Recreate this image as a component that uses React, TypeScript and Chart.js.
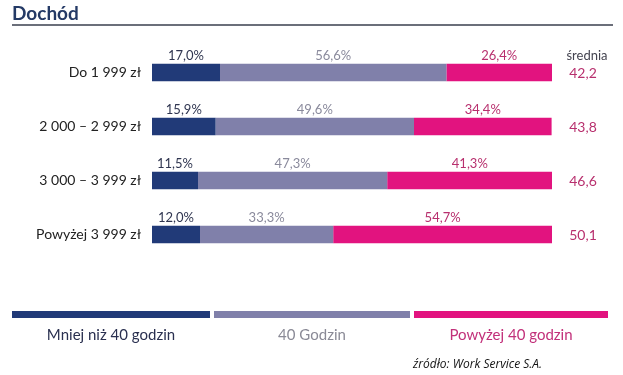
import React, { useEffect, useRef } from "react";
import { Chart, registerables } from "chart.js";

Chart.register(...registerables);

const categories = ["Do 1 999 zł", "2 000 – 2 999 zł", "3 000 – 3 999 zł", "Powyżej 3 999 zł"];
const seriesNames = ["Mniej niż 40 godzin", "40 Godzin", "Powyżej 40 godzin"];
const lessThan40 = [17.0, 15.9, 11.5, 12.0];
const exactly40 = [56.6, 49.6, 47.3, 33.3];
const moreThan40 = [26.4, 34.4, 41.3, 54.7];
const averages = [42.2, 43.8, 46.6, 50.1];
const averageHeader = "średnia";
const titleText = "Dochód";
const sourceText = "źródło: Work Service S.A.";

const barColors = ["#213a78", "#8080aa", "#e2137f"];
const labelColors = ["#2f3550", "#8a8a9c", "#b8306e"];
const legendTextColors = ["#2a3050", "#8a8a96", "#c2307a"];
const FONT = "Lato, 'Noto Sans', sans-serif";

const fmt = (v: number) => v.toFixed(1).replace(".", ",");

const overlayPlugin = {
  id: "overlay",
  afterDatasetsDraw(chart: any) {
    const ctx = chart.ctx as CanvasRenderingContext2D;
    const area = chart.chartArea;
    ctx.save();
    ctx.font = `13px ${FONT}`;
    ctx.textAlign = "center";
    ctx.textBaseline = "middle";
    chart.data.datasets.forEach((ds: any, di: number) => {
      const meta = chart.getDatasetMeta(di);
      meta.data.forEach((bar: any, i: number) => {
        const cx = (bar.x + bar.base) / 2;
        const cy = bar.y - bar.height / 2 - 8;
        ctx.fillStyle = labelColors[di];
        ctx.fillText(fmt(ds.data[i]) + "%", cx, cy);
      });
    });
    const meta0 = chart.getDatasetMeta(0);
    const avgX = area.right + 31;
    ctx.fillStyle = "#444450";
    ctx.font = `13px ${FONT}`;
    ctx.fillText(averageHeader, area.right + 35, meta0.data[0].y - meta0.data[0].height / 2 - 8);
    ctx.fillStyle = labelColors[2];
    ctx.font = `14px ${FONT}`;
    meta0.data.forEach((bar: any, i: number) => {
      ctx.fillText(fmt(averages[i]), avgX, bar.y + 1);
    });
    ctx.restore();
  },
  afterDraw(chart: any) {
    const ctx = chart.ctx as CanvasRenderingContext2D;
    ctx.save();
    ctx.fillStyle = "#243a66";
    ctx.font = `bold 19px ${FONT}`;
    ctx.textAlign = "left";
    ctx.textBaseline = "middle";
    ctx.fillText(titleText, 12, 14);
    ctx.strokeStyle = "#3a3f4e";
    ctx.lineWidth = 1.5;
    ctx.beginPath();
    ctx.moveTo(12, 25);
    ctx.lineTo(613, 25);
    ctx.stroke();
    const segs = [
      [12, 210],
      [214, 410],
      [414, 608],
    ];
    ctx.textAlign = "center";
    ctx.font = `15px ${FONT}`;
    segs.forEach(([x0, x1], i) => {
      ctx.fillStyle = barColors[i];
      ctx.fillRect(x0, 311, x1 - x0, 7);
      ctx.fillStyle = legendTextColors[i];
      ctx.fillText(seriesNames[i], (x0 + x1) / 2, 335);
    });
    ctx.textAlign = "left";
    ctx.fillStyle = "#111";
    ctx.font = `italic 12px 'Open Sans', sans-serif`;
    ctx.fillText(sourceText, 413, 365);
    ctx.restore();
  },
};

export default function App() {
  const ref = useRef<HTMLCanvasElement | null>(null);
  useEffect(() => {
    if (!ref.current) return;
    const chart = new Chart(ref.current, {
      type: "bar",
      data: {
        labels: categories,
        datasets: [lessThan40, exactly40, moreThan40].map((d, i) => ({
          label: seriesNames[i],
          data: d,
          backgroundColor: barColors[i],
          borderWidth: 0,
          barPercentage: 0.32,
          categoryPercentage: 1,
        })),
      },
      options: {
        indexAxis: "y",
        animation: false,
        responsive: false,
        maintainAspectRatio: false,
        layout: { padding: { top: 45.5, bottom: 113.5, right: 71, left: 0 } },
        plugins: {
          legend: { display: false },
          tooltip: { enabled: false },
          title: { display: false },
        },
        scales: {
          x: { stacked: true, min: 0, max: 100, display: false },
          y: {
            stacked: true,
            grid: { display: false, drawTicks: false },
            border: { display: false },
            ticks: {
              color: "#222",
              font: { family: FONT, size: 14 },
              padding: 11,
            },
            afterFit: (s: any) => {
              s.width = 152;
            },
          },
        },
      } as any,
      plugins: [overlayPlugin],
    });
    return () => chart.destroy();
  }, []);
  return (
    <div style={{ position: "fixed", left: 0, top: 0, width: 623, height: 375, background: "#fff" }}>
      <canvas ref={ref} width={623} height={375} style={{ width: 623, height: 375 }} />
    </div>
  );
}
